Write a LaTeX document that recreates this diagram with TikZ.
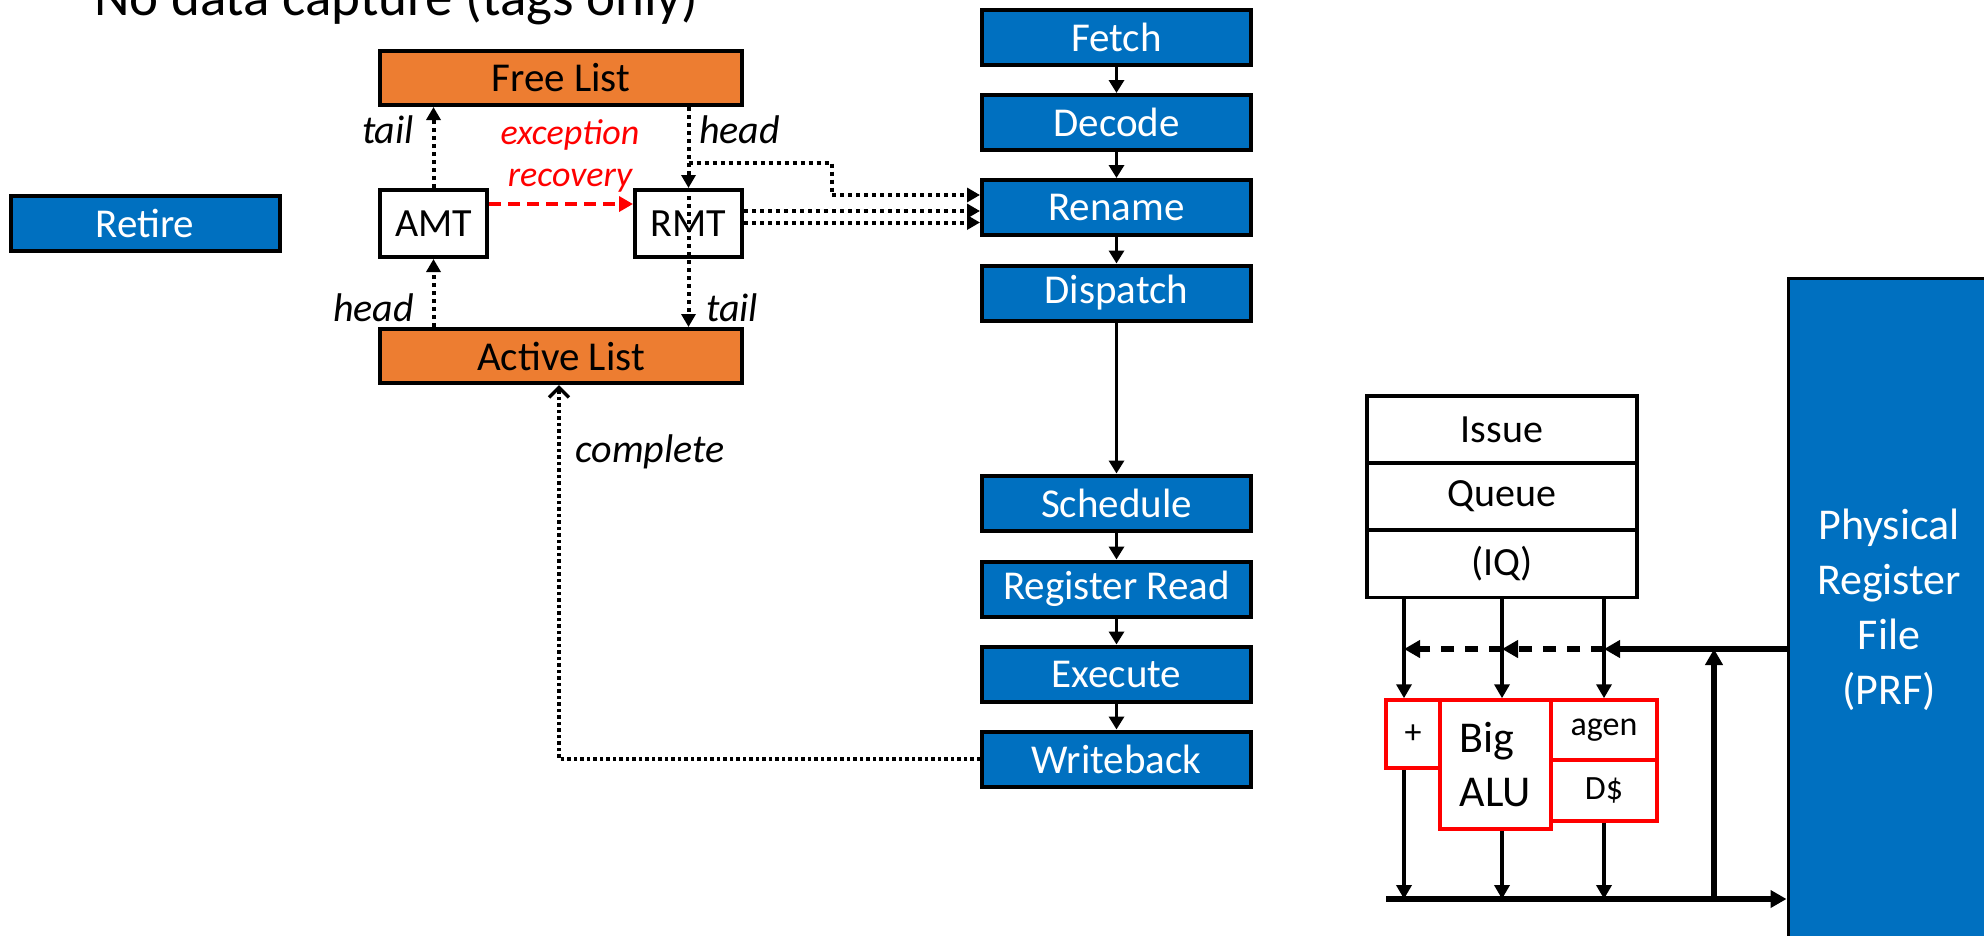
\documentclass[tikz,border=0pt]{standalone}
\usepackage{fontspec}
\setmainfont{Carlito}
\usetikzlibrary{arrows.meta}
\definecolor{stageblue}{HTML}{0070C0}
\definecolor{listorange}{HTML}{ED7D31}
\definecolor{fured}{HTML}{FF0000}
\newcommand\fsz[2]{\fontsize{#1}{#2}\selectfont}

\begin{document}
\begin{tikzpicture}[x=1pt,y=-1pt,
  stage/.style={draw=black, line width=4pt, fill=stageblue, text=white,
    minimum width=269pt, minimum height=55pt, inner sep=0pt, font=\fsz{41}{49}},
  listbox/.style={draw=black, line width=4pt, fill=listorange,
    minimum width=362pt, minimum height=54pt, inner sep=0pt, font=\fsz{41}{49}},
  maptbl/.style={draw=black, line width=4pt, fill=white,
    minimum width=107pt, minimum height=67pt, inner sep=0pt, font=\fsz{40}{48}},
  iqrow/.style={draw=black, line width=3.5pt, fill=white,
    minimum width=270pt, minimum height=67pt, inner sep=0pt, font=\fsz{40}{48}},
  fu/.style={draw=fured, line width=3.5pt, fill=white, inner sep=0pt},
  lbl/.style={font=\fsz{40}{48}\itshape, inner sep=0pt},
  flow/.style={line width=3.5pt, -{Triangle[length=13pt,width=15pt]}},
  tagflow/.style={line width=4pt, dash pattern=on 4pt off 4pt,
    -{Triangle[length=13pt,width=14pt]}},
  tagline/.style={line width=4pt, dash pattern=on 4pt off 4pt},
  doneflow/.style={line width=3.5pt, dash pattern=on 3.5pt off 3pt,
    -{Straight Barb[length=10pt,width=20pt]}},
  recflow/.style={draw=fured, line width=4pt, dash pattern=on 12pt off 7pt,
    -{Triangle[length=14pt,width=15pt]}},
  iqflow/.style={line width=3.5pt, -{Triangle[length=14pt,width=15pt]}},
  busflow/.style={line width=5.5pt, -{Triangle[length=16pt,width=17pt]}},
  busdash/.style={line width=5.5pt, dash pattern=on 13pt off 11pt,
    -{Triangle[length=16pt,width=17pt]}}
]
\useasboundingbox (0,0) rectangle (1984,935);

% heading (partly above the page)
\node[anchor=base west, inner sep=0pt, font=\fsz{55}{60}] (title) at (94,15)
  {No data capture (tags only)};

% retire stage
\node[stage] (retire) at (145,223) {Retire};

% free list, map tables, active list
\node[listbox] (fl) at (561,78) {Free List};
\node[maptbl] (amt) at (433.5,223.5) {AMT};
\node[maptbl] (rmt) at (688.5,223.5) {RMT};
\node[listbox] (al) at (561,356) {Active List};

% pipeline stages
\node[stage] (fetch)    at (1116.5,37.5) {Fetch};
\node[stage] (decode)   at (1116.5,122.5) {Decode};
\node[stage] (rename)   at (1116.5,207.5) {Rename};
\node[stage] (dispatch) at (1116.5,293) {Dispatch};
\node[stage] (sched)    at (1116.5,503) {Schedule};
\node[stage] (regread)  at (1116.5,589) {Register Read};
\node[stage] (exec)     at (1116.5,674) {Execute};
\node[stage] (wb)       at (1116.5,759) {Writeback};

\draw[flow] (fetch.south) -- (decode.north);
\draw[flow] (decode.south) -- (rename.north);
\draw[flow] (rename.south) -- (dispatch.north);
\draw[flow] (dispatch.south) -- (sched.north);
\draw[flow] (sched.south) -- (regread.north);
\draw[flow] (regread.south) -- (exec.north);
\draw[flow] (exec.south) -- (wb.north);

% tag traffic between lists and map tables
\draw[tagflow] (amt.north) -- (fl.south -| amt.north);
\draw[tagflow] (al.north -| amt.south) -- (amt.south);
\draw[tagflow] (fl.south -| rmt.north) -- (rmt.north);
\draw[tagflow] (rmt.north) -- (al.north -| rmt.north);
\draw[recflow] (amt.east |- 0,204) -- (rmt.west |- 0,204);

\node[lbl, anchor=east] (ltail) at (414,130) {tail};
\node[lbl, anchor=east] (lhead) at (414,308) {head};
\node[lbl, anchor=west] (rhead) at (699,130) {head};
\node[lbl, anchor=west] (rtail) at (706,308) {tail};
\node[font=\fsz{36}{42}\itshape, text=fured, align=center, inner sep=0pt]
  (recov) at (570,156) {exception\\recovery};

% tags into rename
\coordinate (tap) at (688.5,163);
\coordinate (bend) at (832,195);
\draw[tagline] (tap) -| (bend);
\draw[tagflow] (bend) -- (rename.west |- bend);
\draw[tagflow] (rmt.east |- 0,211) -- (rename.west |- 0,211);
\draw[tagflow] (rmt.east |- 0,222.5) -- (rename.west |- 0,222.5);

% completion back to the active list
\draw[doneflow] (wb.west) -| (559,0 |- al.south);
\node[lbl, anchor=west] (lcomplete) at (575,452) {complete};

% issue queue
\node[iqrow] (iq1) at (1502,429.5) {Issue};
\node[iqrow] (iq2) at (1502,496.5) {Queue};
\node[iqrow] (iq3) at (1502,564) {(IQ)};

% physical register file
\node[draw=black, line width=3pt, fill=stageblue, text=white, align=center,
  minimum width=202pt, minimum height=664pt, inner sep=0pt,
  font=\fsz{44}{55}] (prf) at (1889,610)
  {Physical\\Register\\File\\(PRF)};

% functional units
\node[fu, minimum width=54pt, minimum height=68pt, font=\fsz{34}{40}]
  (plus) at (1413,734) {+};
\node[fu, minimum width=111pt, minimum height=129pt, align=left,
  font=\fsz{44}{54}] (alu) at (1495.5,764.5) {Big\\ALU};
\node[fu, minimum width=106pt, minimum height=60pt, font=\fsz{34}{40}]
  (agen) at (1604,730) {agen};
\node[fu, minimum width=106pt, minimum height=61pt, font=\fsz{34}{40}]
  (dc) at (1604,790.5) {D\$};

% operand bypass from the register file
\coordinate (byA) at (1404,649);
\coordinate (byB) at (1502,649);
\coordinate (byC) at (1604,649);
\coordinate (wbTap) at (1714,899);
\coordinate (busL) at (1386,899);
\draw[busflow] (prf.west |- byC) -- (byC);
\draw[busdash] (byC) -- (byB);
\draw[busdash] (byB) -- (byA);
\draw[busflow] (wbTap) -- (wbTap |- byC);

% issue to units
\draw[iqflow] (iq3.south -| byA) -- (plus.north -| byA);
\draw[iqflow] (iq3.south -| byB) -- (alu.north -| byB);
\draw[iqflow] (iq3.south -| byC) -- (agen.north -| byC);

% results onto the writeback bus
\draw[iqflow] (plus.south -| byA) -- (busL -| byA);
\draw[iqflow] (alu.south -| byB) -- (busL -| byB);
\draw[iqflow] (dc.south -| byC) -- (busL -| byC);
\draw[busflow] (busL) -- (prf.west |- busL);
\end{tikzpicture}
\end{document}
